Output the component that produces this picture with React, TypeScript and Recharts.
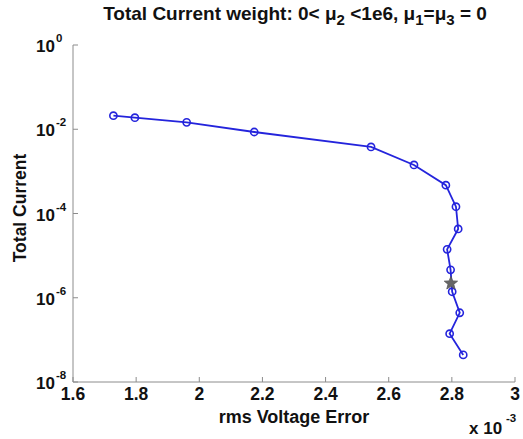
import { ComposedChart, Line, Scatter, XAxis, YAxis, Customized } from 'recharts'

const rmsVoltageError = [1.728, 1.796, 1.96, 2.174, 2.544, 2.68, 2.781, 2.813, 2.82, 2.785, 2.796, 2.801, 2.825, 2.793, 2.836]
const totalCurrent = [2.1e-2, 1.88e-2, 1.46e-2, 8.6e-3, 3.8e-3, 1.42e-3, 4.7e-4, 1.45e-4, 4.3e-5, 1.41e-5, 4.6e-6, 1.39e-6, 4.4e-7, 1.4e-7, 4.4e-8]
const chosenPoint = [{ x: 2.797, y: 2.2e-6 }]

const xTicks = [1.6, 1.8, 2, 2.2, 2.4, 2.6, 2.8, 3]
const yTicks = [1e-8, 1e-6, 1e-4, 1e-2, 1]

const BLUE = '#2424dc'
const AXIS = '#8c8c8c'
const FONT = '"Liberation Sans", Arial, sans-serif'

const data = rmsVoltageError.map((x, i) => ({ x, y: totalCurrent[i] }))

function BottomTick({ x, y, payload }: any) {
  return (
    <g>
      <line x1={x} y1={y} x2={x} y2={y - 5} stroke={AXIS} />
      <text x={x} y={y + 18} textAnchor="middle" fontFamily={FONT} fontWeight="bold" fontSize={17.5} fill="#111">
        {String(payload.value)}
      </text>
    </g>
  )
}

function TopTick({ x, y }: any) {
  return <line x1={x} y1={y} x2={x} y2={y + 5} stroke={AXIS} />
}

function LeftTick({ x, y, payload }: any) {
  const exp = Math.round(Math.log10(payload.value))
  return (
    <g>
      <line x1={x} y1={y} x2={x + 5} y2={y} stroke={AXIS} />
      <text x={55} y={y + 7} textAnchor="end" fontFamily={FONT} fontWeight="bold" fontSize={17} fill="#111">
        10
      </text>
      <text x={56} y={y - 3} textAnchor="start" fontFamily={FONT} fontWeight="bold" fontSize={11.5} fill="#111">
        {String(exp)}
      </text>
    </g>
  )
}

function RightTick({ x, y }: any) {
  return <line x1={x} y1={y} x2={x - 5} y2={y} stroke={AXIS} />
}

function CircleDot({ cx, cy }: any) {
  if (cx == null || cy == null) return null
  return <circle cx={cx} cy={cy} r={3.6} fill="none" stroke={BLUE} strokeWidth={1.6} />
}

function StarShape({ cx, cy }: any) {
  const pts: string[] = []
  for (let i = 0; i < 10; i++) {
    const r = i % 2 === 0 ? 7 : 3
    const a = -Math.PI / 2 + (i * Math.PI) / 5
    pts.push(`${cx + r * Math.cos(a)},${cy + r * Math.sin(a)}`)
  }
  return <polygon points={pts.join(' ')} fill="#666" stroke="#555" strokeWidth={0.8} />
}

function Annotations() {
  return (
    <g fontFamily={FONT} fontWeight="bold" fill="#111">
      <text x={295} y={20} textAnchor="middle" fontSize={19}>
        Total Current weight: 0&lt; μ<tspan dy={5} fontSize={15}>2</tspan>
        <tspan dy={-5}> &lt;1e6, μ</tspan>
        <tspan dy={5} fontSize={15}>1</tspan>
        <tspan dy={-5}>=μ</tspan>
        <tspan dy={5} fontSize={15}>3</tspan>
        <tspan dy={-5}> = 0</tspan>
      </text>
      <text x={294} y={423} textAnchor="middle" fontSize={18}>rms Voltage Error</text>
      <text x={20} y={208} textAnchor="middle" fontSize={17.5} transform="rotate(-90 20 208)" dy={6}>
        Total Current
      </text>
      <text x={469} y={434} fontSize={17}>x 10</text>
      <text x={506} y={422} fontSize={11.5}>-3</text>
    </g>
  )
}

export default function App() {
  return (
    <div style={{ position: 'absolute', left: 0, top: 0, background: '#fff' }}>
      <ComposedChart width={523} height={439} data={data} margin={{ top: 45, right: 8, bottom: 0, left: 0 }}>
        <XAxis
          dataKey="x"
          type="number"
          domain={[1.6, 3]}
          ticks={xTicks}
          allowDataOverflow
          height={57}
          tickSize={0}
          tickMargin={0}
          tickLine={false}
          stroke={AXIS}
          tick={<BottomTick />}
          interval={0}
        />
        <XAxis
          xAxisId="top"
          dataKey="x"
          type="number"
          orientation="top"
          domain={[1.6, 3]}
          ticks={xTicks}
          allowDataOverflow
          height={0}
          tickSize={0}
          tickMargin={0}
          tickLine={false}
          stroke={AXIS}
          tick={<TopTick />}
          interval={0}
        />
        <YAxis
          dataKey="y"
          scale="log"
          type="number"
          domain={[1e-8, 1]}
          ticks={yTicks}
          allowDataOverflow
          width={73}
          tickSize={0}
          tickMargin={0}
          tickLine={false}
          stroke={AXIS}
          tick={<LeftTick />}
          interval={0}
        />
        <YAxis
          yAxisId="right"
          dataKey="y"
          orientation="right"
          scale="log"
          type="number"
          domain={[1e-8, 1]}
          ticks={yTicks}
          allowDataOverflow
          width={0}
          tickSize={0}
          tickMargin={0}
          tickLine={false}
          stroke={AXIS}
          tick={<RightTick />}
          interval={0}
        />
        <Line
          dataKey="y"
          stroke={BLUE}
          strokeWidth={1.8}
          dot={<CircleDot />}
          activeDot={false}
          isAnimationActive={false}
        />
        <Scatter data={chosenPoint} dataKey="y" shape={<StarShape />} isAnimationActive={false} />
        <Customized component={<Annotations />} />
      </ComposedChart>
    </div>
  )
}
